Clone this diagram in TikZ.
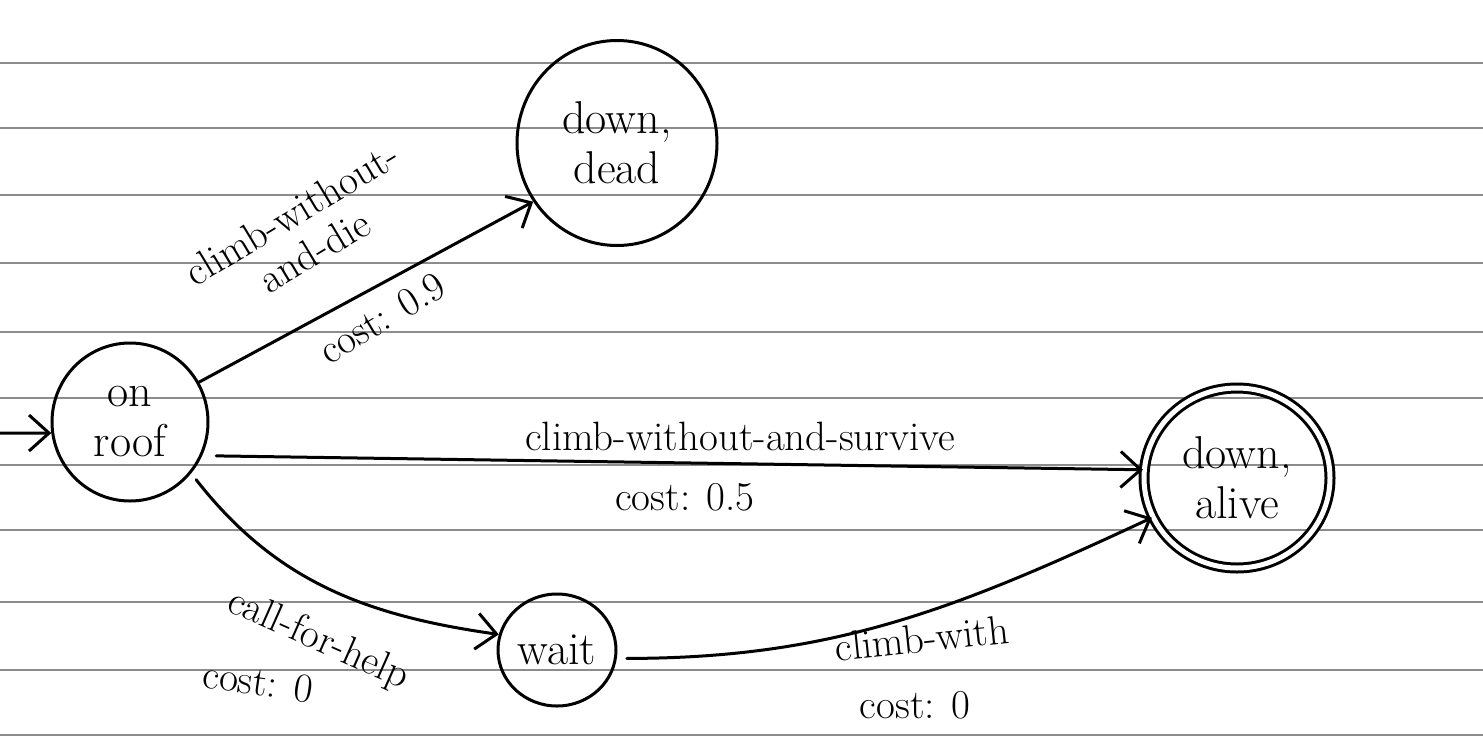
\documentclass[tikz,border=0pt]{standalone}
\usepackage{fontspec}
\usetikzlibrary{arrows.meta,shapes.geometric}
\begin{document}
\begin{tikzpicture}[x=1pt,y=-1pt,
  state/.style={draw, ellipse, line width=3pt, align=center, inner sep=0pt,
    font=\fontsize{46}{50}\selectfont},
  edge/.style={draw, line width=3pt, line cap=round,
    -{Straight Barb[length=20pt,width=36pt,line width=3pt]}},
  lbl/.style={font=\fontsize{41}{44}\selectfont, align=center, inner sep=2pt},
  paper/.style={draw=black!45, line width=1.3pt}]
\fill[white] (0,0) rectangle (1483,737);
\useasboundingbox (0,0) rectangle (1483,737);
\foreach \y in {63,128,195,263,332,398,465,530,602,670,735}
  \draw[paper] (0,\y) -- (1483,\y);

% states
\node[state, minimum width=156, minimum height=158] (roof) at (130,422) {on\\roof};
\node[state, minimum width=200, minimum height=205] (dead) at (617,143) {down,\\dead};
\node[state, double, double distance=5pt, minimum width=186, minimum height=180] (alive) at (1237,478) {down,\\alive};
\node[state, minimum width=118, minimum height=112] (wait) at (557,650) {wait};

% initial arrow
\coordinate (start) at (0,433);
\draw[edge] (start) -- (roof.188);

% roof -> dead
\draw[edge] (roof.30) -- (dead.215);
\node[lbl, rotate=31] (l1) at (303,232) {climb-without-\\and-die};
\node[lbl, rotate=31] (c1) at (382,318) {cost: 0.9};

% roof -> alive
\draw[edge, shorten <=14pt] (roof.-25) -- (alive.175);
\node[lbl] (l2) at (740,436) {climb-without-and-survive};
\node[lbl] (c2) at (685,497) {cost: 0.5};

% roof -> wait
\draw[edge, shorten <=8pt] (roof.-40) to[out=-52,in=172] (wait.165);
\node[lbl, rotate=-24] (l3) at (318,640) {call-for-help};
\node[lbl, rotate=-8] (c3) at (258,682) {cost: 0};

% wait -> alive
\draw[edge, shorten <=10pt] (wait.-8) to[out=0,in=205] (alive.205);
\node[lbl, rotate=6] (l4) at (922,638) {climb-with};
\node[lbl] (c4) at (915,705) {cost: 0};
\end{tikzpicture}
\end{document}
